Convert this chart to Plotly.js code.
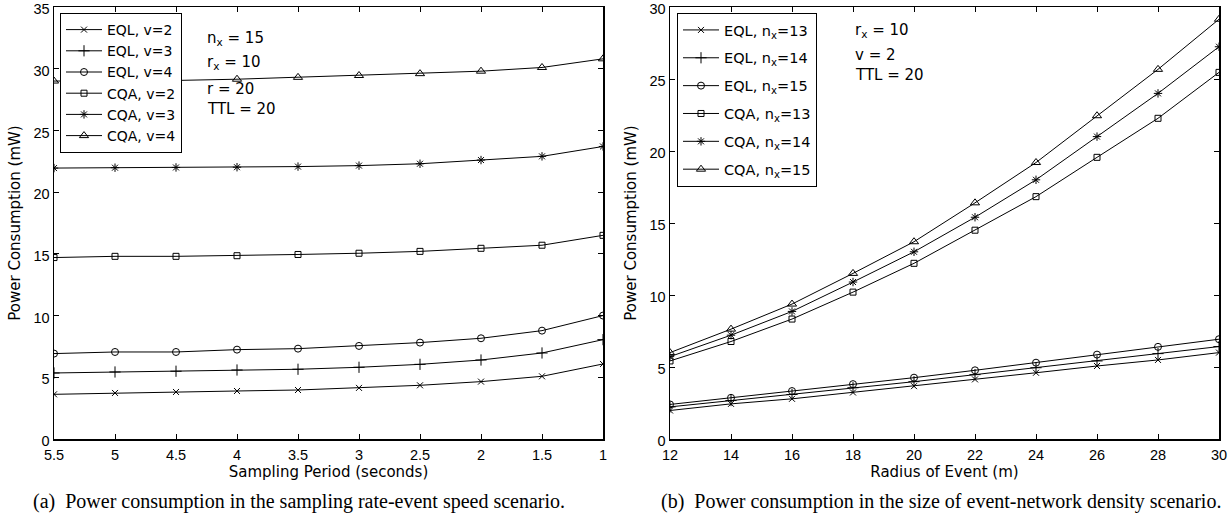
<!DOCTYPE html>
<html>
<head>
<meta charset="utf-8">
<script src="https://cdn.plot.ly/plotly-3.0.1.min.js"></script>
<style>
  html, body { margin: 0; padding: 0; background: #fff; }
  #chart { width: 1231px; height: 522px; }
</style>
</head>
<body>
<div id="chart"></div>
<script>
// (a) Sampling rate vs. event speed
const samplingPeriod = [5.5, 5, 4.5, 4, 3.5, 3, 2.5, 2, 1.5, 1];
const samplingTicks = ['5.5', '5', '4.5', '4', '3.5', '3', '2.5', '2', '1.5', '1'];
const eqlV2 = [3.62, 3.73, 3.81, 3.89, 3.97, 4.14, 4.35, 4.65, 5.08, 6.08];
const eqlV3 = [5.35, 5.43, 5.49, 5.59, 5.65, 5.81, 6.05, 6.40, 6.97, 8.05];
const eqlV4 = [6.92, 7.05, 7.05, 7.24, 7.32, 7.54, 7.81, 8.16, 8.78, 10.0];
const cqaV2 = [14.7, 14.8, 14.8, 14.85, 14.95, 15.05, 15.2, 15.45, 15.7, 16.5];
const cqaV3 = [21.95, 21.98, 22.0, 22.02, 22.07, 22.15, 22.3, 22.6, 22.9, 23.7];
const cqaV4 = [29.0, 29.0, 29.05, 29.15, 29.3, 29.45, 29.6, 29.8, 30.1, 30.8];

// (b) Event size vs. network density
const eventRadius = [12, 14, 16, 18, 20, 22, 24, 26, 28, 30];
const eqlN13 = [1.98, 2.44, 2.79, 3.23, 3.67, 4.14, 4.60, 5.07, 5.49, 6.0];
const eqlN14 = [2.23, 2.67, 3.09, 3.56, 3.98, 4.47, 4.95, 5.42, 5.93, 6.42];
const eqlN15 = [2.40, 2.86, 3.33, 3.81, 4.26, 4.77, 5.30, 5.86, 6.40, 6.93];
const cqaN13 = [5.42, 6.77, 8.33, 10.2, 12.2, 14.5, 16.83, 19.56, 22.27, 25.46];
const cqaN14 = [5.72, 7.21, 8.86, 10.9, 13.0, 15.4, 18.0, 21.0, 24.0, 27.24];
const cqaN15 = [6.0, 7.63, 9.37, 11.5, 13.7, 16.4, 19.2, 22.45, 25.67, 29.15];

const W = 1231, H = 522;
const px = v => v / W;
const py = v => 1 - v / H;

const TEXT_FONT = 'DejaVu Sans';
const TICK_FONT = 'Liberation Sans, Arial, sans-serif';

const markerStyles = {
  x:        { symbol: 'x-thin-open',      size: 6 },
  plus:     { symbol: 'cross-thin-open',  size: 8 },
  circle:   { symbol: 'circle-open',      size: 7 },
  square:   { symbol: 'square-open',      size: 6 },
  asterisk: { symbol: 'asterisk-open',    size: 7 },
  triangle: { symbol: 'triangle-up-open', size: 8 }
};

function series(x, y, name, mk, axes, legendId, group) {
  const m = markerStyles[mk];
  const t = {
    x: x, y: y, name: name, type: 'scatter', mode: 'lines+markers',
    xaxis: axes[0], yaxis: axes[1],
    line: { color: '#000', width: 1 },
    marker: { symbol: m.symbol, size: m.size, color: '#000', line: { color: '#000', width: 1 } },
    legend: legendId
  };
  if (group) t.legendgroup = group;
  return t;
}

const A = ['x', 'y'], B = ['x2', 'y2'];
const data = [
  series(samplingPeriod, eqlV2, 'EQL, v=2', 'x', A, 'legend'),
  series(samplingPeriod, eqlV3, 'EQL, v=3', 'plus', A, 'legend'),
  series(samplingPeriod, eqlV4, 'EQL, v=4', 'circle', A, 'legend'),
  series(samplingPeriod, cqaV2, 'CQA, v=2', 'square', A, 'legend'),
  series(samplingPeriod, cqaV3, 'CQA, v=3', 'asterisk', A, 'legend'),
  series(samplingPeriod, cqaV4, 'CQA, v=4', 'triangle', A, 'legend'),
  series(eventRadius, eqlN13, 'EQL, n<sub>x</sub>=13', 'x', B, 'legend2', 'g1'),
  series(eventRadius, eqlN14, 'EQL, n<sub>x</sub>=14', 'plus', B, 'legend2', 'g2'),
  series(eventRadius, eqlN15, 'EQL, n<sub>x</sub>=15', 'circle', B, 'legend2', 'g3'),
  series(eventRadius, cqaN13, 'CQA, n<sub>x</sub>=13', 'square', B, 'legend2', 'g4'),
  series(eventRadius, cqaN14, 'CQA, n<sub>x</sub>=14', 'asterisk', B, 'legend2', 'g5'),
  series(eventRadius, cqaN15, 'CQA, n<sub>x</sub>=15', 'triangle', B, 'legend2', 'g6')
];

const axisBase = {
  showline: true, linecolor: '#000', linewidth: 1.5, mirror: 'ticks',
  ticks: 'inside', ticklen: 5, tickwidth: 1, tickcolor: '#000',
  showgrid: false, zeroline: false, fixedrange: true,
  ticklabeloverflow: 'allow',
  tickfont: { family: TICK_FONT, size: 14.5, color: '#000' }
};
const titleFont = { family: TEXT_FONT, size: 15, color: '#000' };

const yDomain = [py(439), py(7)];

const legendBase = {
  xanchor: 'left', yanchor: 'top',
  bgcolor: '#fff', bordercolor: '#000', borderwidth: 1,
  font: { family: TEXT_FONT, size: 14.5, color: '#000' },
  itemwidth: 36
};

function note(text, x, y) {
  return { text: text, xref: 'paper', yref: 'paper', x: px(x), y: py(y),
           xanchor: 'left', yanchor: 'middle', showarrow: false,
           font: { family: TEXT_FONT, size: 15, color: '#000' } };
}
function caption(text, x, y) {
  return { text: text, xref: 'paper', yref: 'paper', x: px(x), y: py(y),
           xanchor: 'center', yanchor: 'middle', showarrow: false,
           font: { family: 'Liberation Serif, Times New Roman, serif', size: 20, color: '#000' } };
}

const layout = {
  width: W, height: H,
  margin: { l: 0, r: 0, t: 0, b: 0 },
  paper_bgcolor: '#fff', plot_bgcolor: '#fff',
  showlegend: true,
  xaxis: Object.assign({}, axisBase, {
    domain: [px(54), px(603)], anchor: 'y',
    range: [5.5, 1], tickvals: samplingPeriod, ticktext: samplingTicks,
    ticklabelstandoff: 2,
    title: { text: 'Sampling Period (seconds)', font: titleFont, standoff: 2 }
  }),
  yaxis: Object.assign({}, axisBase, {
    domain: yDomain, anchor: 'x', range: [0, 35], dtick: 5, ticklabelshift: 2,
    title: { text: 'Power Consumption (mW)', font: titleFont, standoff: 9 }
  }),
  xaxis2: Object.assign({}, axisBase, {
    domain: [px(670), px(1219)], anchor: 'y2',
    range: [12, 30], dtick: 2, ticklabelstandoff: 2,
    title: { text: 'Radius of Event (m)', font: titleFont, standoff: 2 }
  }),
  yaxis2: Object.assign({}, axisBase, {
    domain: yDomain, anchor: 'x2', range: [0, 30], dtick: 5, ticklabelshift: 2,
    title: { text: 'Power Consumption (mW)', font: titleFont, standoff: 9 }
  }),
  legend: Object.assign({}, legendBase, { x: px(60), y: py(13), font: { family: TEXT_FONT, size: 14, color: '#000' } }),
  legend2: Object.assign({}, legendBase, { x: px(677), y: py(13), tracegroupgap: 6 }),
  annotations: [
    note('n<sub>x</sub> = 15', 205, 39),
    note('r<sub>x</sub> = 10', 205, 62),
    note('r = 20', 205, 89),
    note('TTL = 20', 205, 109),
    note('r<sub>x</sub> = 10', 853, 30),
    note('v = 2', 853, 55),
    note('TTL = 20', 853, 75),
    caption('(a)  Power consumption in the sampling rate-event speed scenario.', 299, 501),
    caption('(b)  Power consumption in the size of event-network density scenario.', 941, 501)
  ]
};

Plotly.newPlot('chart', data, layout, { displayModeBar: false, staticPlot: true });
</script>
</body>
</html>
